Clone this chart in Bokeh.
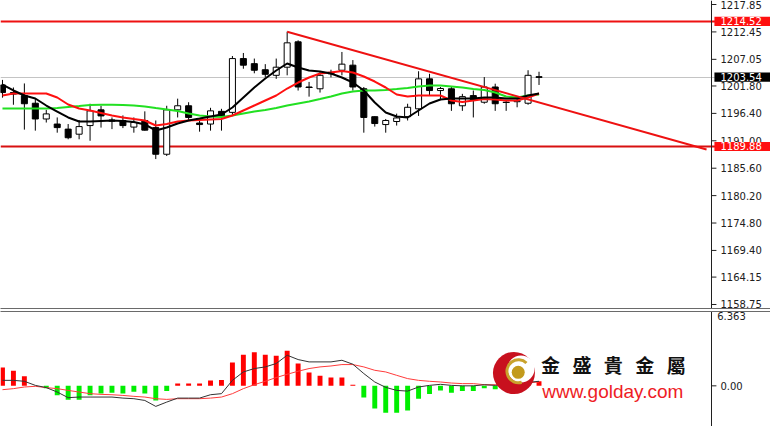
from bokeh.plotting import figure
from bokeh.models import Range1d, LinearAxis, FixedTicker
from bokeh.layouts import column
from bokeh.embed import file_html
from bokeh.resources import INLINE
from bokeh.core.properties import value

# ---------------- data ----------------
bars = list(range(50))
open_ = [1202.0, 1200.5, 1199.9, 1198.4, 1195.3, 1194.3, 1193.3, 1192.3, 1194.0, 1197.1,
         1195.1, 1195.0, 1193.7, 1195.0, 1193.6, 1188.35, 1197.1, 1197.9, 1194.5, 1194.3,
         1196.8, 1196.6, 1207.2, 1206.2, 1205.0, 1203.9, 1205.5, 1210.5, 1201.6, 1201.25,
         1204.2, 1204.9, 1205.9, 1201.25, 1195.75, 1194.2, 1194.8, 1195.75, 1197.3, 1203.2,
         1200.9, 1201.25, 1197.9, 1199.9, 1198.6, 1201.6, 1198.6, 1198.7, 1198.4, 1203.6]
high = [1203.0, 1201.5, 1202.3, 1199.3, 1197.1, 1195.6, 1194.3, 1195.1, 1198.3, 1197.9,
        1195.6, 1196.0, 1195.6, 1196.8, 1195.0, 1197.9, 1199.3, 1198.6, 1195.5, 1197.5,
        1197.3, 1207.7, 1208.3, 1207.2, 1206.1, 1207.2, 1212.5, 1210.8, 1202.6, 1204.5,
        1205.0, 1208.5, 1206.9, 1201.6, 1195.8, 1195.3, 1196.35, 1198.3, 1204.7, 1204.2,
        1201.6, 1201.6, 1200.25, 1200.9, 1203.55, 1202.25, 1198.9, 1199.6, 1204.9, 1204.6]
low = [1199.5, 1198.1, 1193.2, 1193.0, 1194.6, 1192.6, 1191.3, 1191.3, 1191.0, 1193.6,
       1193.3, 1193.5, 1192.6, 1193.0, 1187.4, 1188.0, 1195.6, 1195.0, 1192.8, 1193.0,
       1193.0, 1196.0, 1205.2, 1204.3, 1203.55, 1203.2, 1203.9, 1200.9, 1199.7, 1200.5,
       1203.5, 1203.9, 1200.9, 1192.6, 1193.8, 1192.6, 1194.0, 1195.0, 1195.9, 1199.9,
       1199.0, 1196.9, 1196.9, 1195.6, 1198.3, 1196.9, 1196.9, 1197.6, 1198.1, 1202.0]
close = [1200.5, 1200.2, 1198.3, 1195.3, 1196.3, 1193.6, 1191.6, 1193.8, 1196.9, 1195.9,
         1194.9, 1194.0, 1194.6, 1193.1, 1188.35, 1197.1, 1197.9, 1195.6, 1194.2, 1196.9,
         1195.9, 1207.2, 1205.9, 1204.9, 1204.1, 1205.5, 1210.3, 1201.6, 1201.5, 1203.9,
         1204.5, 1206.1, 1201.6, 1195.6, 1194.4, 1195.0, 1195.5, 1197.6, 1203.2, 1200.9,
         1201.3, 1198.3, 1199.7, 1199.1, 1201.6, 1198.3, 1198.55, 1198.9, 1203.9, 1203.54]

ma_fast = [1202.09, 1200.91, 1199.92, 1199.33, 1197.95, 1196.77, 1195.59, 1194.80, 1194.80, 1194.90,
           1195.00, 1194.90, 1194.70, 1194.21, 1193.03, 1193.62, 1194.41, 1195.00, 1195.39, 1195.79,
           1196.18, 1197.56, 1199.53, 1201.50, 1203.27, 1204.85, 1206.23, 1205.44, 1204.85, 1204.65,
           1204.26, 1203.47, 1202.48, 1200.91, 1198.54, 1196.57, 1195.79, 1195.59, 1196.97, 1198.35,
           1199.14, 1199.33, 1199.33, 1199.33, 1199.53, 1199.53, 1199.33, 1199.33, 1199.92, 1200.32]
ma_mid = [1199.92, 1200.32, 1200.32, 1200.32, 1200.32, 1199.53, 1198.15, 1197.36, 1196.97, 1196.48,
          1195.98, 1195.59, 1195.29, 1195.00, 1194.01, 1194.31, 1194.80, 1195.00, 1195.10, 1195.20,
          1195.29, 1195.98, 1196.97, 1197.95, 1198.94, 1199.92, 1201.30, 1202.48, 1203.47, 1204.26,
          1204.45, 1204.75, 1204.45, 1203.67, 1202.68, 1201.50, 1200.12, 1199.73, 1199.92, 1199.92,
          1199.92, 1198.94, 1198.64, 1198.94, 1199.23, 1199.14, 1198.94, 1198.94, 1199.53, 1200.32]
ma_slow = [1197.36, 1197.36, 1197.36, 1197.36, 1197.36, 1197.46, 1197.66, 1197.85, 1198.05, 1198.09,
           1198.09, 1198.05, 1197.95, 1197.76, 1197.46, 1197.17, 1196.87, 1196.38, 1195.98, 1195.79,
           1195.69, 1195.98, 1196.38, 1196.77, 1197.07, 1197.46, 1197.95, 1198.35, 1198.74, 1199.23,
           1199.73, 1200.32, 1200.71, 1200.91, 1200.91, 1201.01, 1201.20, 1201.40, 1201.70, 1201.89,
           1201.89, 1201.70, 1201.50, 1201.20, 1201.01, 1200.51, 1199.73, 1199.53, 1199.92, 1200.12]

trend_x = [26, 64.3]
trend_y = [1212.5, 1189.3]
resistance = 1214.52
support = 1189.88
last_price = 1203.54
price_ticks = [1217.85, 1212.45, 1207.05, 1201.80, 1196.40, 1191.00,
               1185.60, 1180.20, 1174.80, 1169.40, 1164.15, 1158.75]

hist = [1.57, 1.29, 0.82, 0.0, -0.2, -0.8, -1.2, -1.2, -0.8, -0.65,
        -0.6, -0.65, -0.5, -0.65, -1.25, -0.45, 0.2, 0.2, 0.2, 0.45,
        0.5, 2.0, 2.67, 2.87, 2.67, 2.58, 3.0, 1.92, 1.15, 0.86,
        0.72, 0.72, 0.1, -1.0, -1.95, -2.3, -2.3, -2.1, -1.1, -0.7,
        -0.4, -0.6, -0.45, -0.45, -0.2, -0.3, -0.2, -0.2, 0.2, 0.4]
macd_line = [0.47, 0.47, 0.39, 0.04, -0.15, -0.53, -1.01, -0.96, -0.96, -0.96,
             -0.96, -1.05, -1.10, -1.25, -1.76, -1.39, -1.05, -1.05, -1.05, -0.76,
             -0.67, 0.47, 1.19, 1.48, 1.62, 1.91, 2.62, 2.25, 2.05, 2.05,
             2.05, 2.19, 1.85, 1.05, 0.33, -0.13, -0.39, -0.45, -0.10, 0.04,
             0.13, 0.04, 0.0, 0.0, 0.09, 0.04, 0.13, 0.13, 0.30, 0.39]
signal_line = [-0.33, -0.24, -0.10, -0.04, -0.15, -0.24, -0.39, -0.53, -0.67, -0.73,
               -0.76, -0.82, -0.90, -0.96, -1.10, -1.16, -1.10, -1.10, -1.10, -1.05,
               -0.96, -0.67, -0.24, 0.10, 0.39, 0.71, 0.99, 1.25, 1.48, 1.62,
               1.70, 1.82, 1.82, 1.62, 1.33, 1.19, 0.90, 0.62, 0.47, 0.39,
               0.33, 0.24, 0.19, 0.19, 0.10, 0.09, 0.09, 0.13, 0.26, 0.33]
macd_max = 6.363
macd_ticks = [0.0]

brand_chars = ["金", "盛", "貴", "金", "屬"]
brand_url = "www.golday.com"

# ---------------- layout constants (pixels / positions) ----------------
XR = Range1d(-0.18, 70.14)     # index scale; the right part holds the price scale
AXIS_X = 64.75                 # where the price scale line sits
TICK_END = 65.2
LABEL_X = 65.57
BOX_L, BOX_R = 65.02, 70.14
AXIS_FONT = "DejaVu Sans"
TXT = "#202020"


def border_axis(loc_fig, side):
    a = LinearAxis(ticker=FixedTicker(ticks=[]), major_tick_out=0, major_tick_in=0,
                   minor_tick_out=0, minor_tick_in=0, major_label_text_font_size="0px",
                   major_label_standoff=0, axis_line_color="#6a6a6a", axis_line_width=1)
    loc_fig.add_layout(a, side)


# ---------------- main price panel ----------------
p = figure(frame_width=770, frame_height=308, x_range=XR, y_range=Range1d(1157.96, 1218.64),
           x_axis_location=None, y_axis_location=None, toolbar_location=None,
           output_backend="svg", min_border_left=0, min_border_right=0,
           min_border_top=0, min_border_bottom=2, outline_line_color=None,
           background_fill_color="white", border_fill_color="white")
p.grid.visible = False
border_axis(p, "below")

# reference lines (drawn first, behind everything)
p.hspan(y=[last_price], line_color="#c4c4c4", line_width=1)
p.hspan(y=[resistance, support], line_color=["#ee1111", "#d81010"], line_width=2)

# candles
up = [c >= o for o, c in zip(open_, close)]
body_top = [max(o, c) for o, c in zip(open_, close)]
body_bot = [min(o, c) for o, c in zip(open_, close)]
fills = ["white" if u else "black" for u in up]
p.segment(x0=bars, y0=low, x1=bars, y1=high, line_color="black", line_width=1)
p.vbar(x=bars, top=body_top, bottom=body_bot, width=0.55, fill_color=fills,
       line_color="black", line_width=1)
doji = [i for i in bars if abs(close[i] - open_[i]) < 0.2]
p.segment(x0=[i - 0.3 for i in doji], y0=[close[i] for i in doji],
          x1=[i + 0.3 for i in doji], y1=[close[i] for i in doji], line_color="black", line_width=1)

# moving averages
p.line(bars, ma_slow, line_color="#22e022", line_width=2)
p.line(bars, ma_mid, line_color="#ff1010", line_width=2)
p.line(bars, ma_fast, line_color="black", line_width=2)

# trend line
p.line(trend_x, trend_y, line_color="#ee1111", line_width=2)

# price scale
p.vspan(x=[AXIS_X], line_color=TXT, line_width=1)
p.segment(x0=[AXIS_X] * len(price_ticks), y0=price_ticks,
          x1=[TICK_END] * len(price_ticks), y1=price_ticks, line_color=TXT, line_width=1)
p.text(x=[LABEL_X] * len(price_ticks), y=price_ticks, text=[f"{t:.2f}" for t in price_ticks],
       text_font=value(AXIS_FONT), text_font_size="10px", text_color=TXT,
       text_baseline="middle", text_align="left")

# price boxes on the scale
box_vals = [resistance, last_price, support]
box_cols = ["#ff1010", "#000000", "#ff1010"]
p.quad(left=[BOX_L] * 3, right=[BOX_R] * 3, bottom=[v - 0.9 for v in box_vals],
       top=[v + 0.9 for v in box_vals], fill_color=box_cols, line_color=None)
p.text(x=[LABEL_X] * 3, y=box_vals, text=[f"{v:.2f}" for v in box_vals],
       text_font=value(AXIS_FONT), text_font_size="10px", text_color="white",
       text_baseline="middle", text_align="left")

# ---------------- MACD panel ----------------
q = figure(frame_width=770, frame_height=115, x_range=XR, y_range=Range1d(-3.48, macd_max),
           x_axis_location=None, y_axis_location=None, toolbar_location=None,
           output_backend="svg", min_border_left=0, min_border_right=0,
           min_border_top=1, min_border_bottom=0, outline_line_color=None,
           background_fill_color="white", border_fill_color="white")
q.grid.visible = False
border_axis(q, "above")

hcol = ["#ff0000" if h > 0 else "#00ee00" for h in hist]
q.vbar(x=bars, top=hist, bottom=0, width=0.45, fill_color=hcol, line_color=None)
q.line(bars, signal_line, line_color="#ff3b3b", line_width=1)
q.line(bars, macd_line, line_color="#333333", line_width=1)

# MACD scale
q.vspan(x=[AXIS_X], line_color=TXT, line_width=1)
q.segment(x0=[AXIS_X] * len(macd_ticks), y0=macd_ticks, x1=[TICK_END] * len(macd_ticks),
          y1=macd_ticks, line_color=TXT, line_width=1)
q.text(x=[LABEL_X] * len(macd_ticks), y=macd_ticks, text=[f"{t:.2f}" for t in macd_ticks],
       text_font=value(AXIS_FONT), text_font_size="10px", text_color=TXT,
       text_baseline="middle", text_align="left")
q.text(x=[65.27], y=[macd_max], text=[f"{macd_max:.3f}"], text_font=value(AXIS_FONT),
       text_font_size="10px", text_color=TXT, text_baseline="top", text_align="left")

# watermark logo
q.scatter([46.71], [1.10], size=42, marker="circle", fill_color="#c8101e", line_color=None)
q.scatter([47.35], [1.45], size=27, marker="circle", fill_color="white", line_color=None)
q.annular_wedge(x=[47.12], y=[1.25], inner_radius=10, outer_radius=13,
                inner_radius_units="screen", outer_radius_units="screen",
                start_angle=0.8, end_angle=5.0, fill_color="#c9a22c", line_color=None)
q.scatter([47.1], [1.16], size=13, marker="circle", fill_color="#c39a1c", line_color=None)
q.text(x=[50.05 + 2.87 * k for k in range(len(brand_chars))], y=[1.85] * len(brand_chars),
       text=brand_chars, text_font=value("Noto Sans CJK TC"), text_font_size="19px",
       text_baseline="middle", text_align="center", text_color="#111111", text_font_style="bold")
q.text(x=[49.29], y=[-0.52], text=[brand_url], text_font=value("Liberation Sans"),
       text_font_size="19px", text_baseline="alphabetic", text_align="left", text_color="#ee1c25")

layout = column(p, q, spacing=0)
open("out.html", "w").write(file_html(layout, INLINE))
